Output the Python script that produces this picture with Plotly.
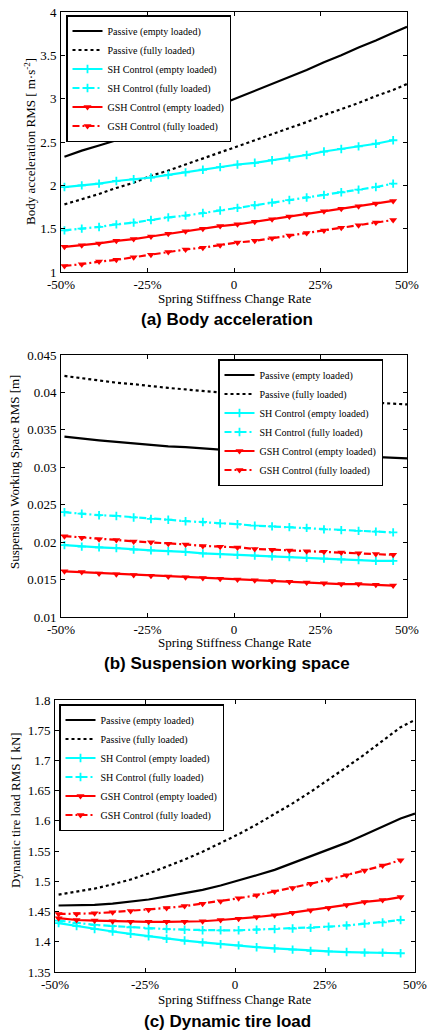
import plotly.graph_objects as go

# ---------------- data ----------------
x_ctrl = [-49, -44, -39, -34, -29, -24, -19, -14, -9, -4, 1, 6, 11, 16, 21, 26, 31, 36, 41, 46]
x_pass = [-49, -44, -39, -34, -29, -24, -19, -14, -9, -4, 1, 6, 11, 16, 21, 26, 31, 36, 41, 46, 50]

# (a) Body acceleration RMS
a_pass_empty = [2.33, 2.40, 2.46, 2.52, 2.58, 2.66, 2.72, 2.79, 2.86, 2.93, 3.01, 3.09, 3.17, 3.25, 3.33, 3.42, 3.50, 3.59, 3.67, 3.76, 3.83]
a_pass_full = [1.78, 1.84, 1.90, 1.97, 2.03, 2.11, 2.17, 2.24, 2.31, 2.38, 2.45, 2.52, 2.59, 2.66, 2.73, 2.81, 2.88, 2.95, 3.03, 3.10, 3.17]
a_sh_empty = [1.98, 2.00, 2.02, 2.05, 2.07, 2.09, 2.12, 2.15, 2.18, 2.21, 2.24, 2.26, 2.29, 2.32, 2.35, 2.39, 2.42, 2.45, 2.48, 2.52]
a_sh_full = [1.48, 1.50, 1.52, 1.55, 1.57, 1.60, 1.63, 1.65, 1.68, 1.71, 1.74, 1.77, 1.80, 1.83, 1.86, 1.89, 1.92, 1.95, 1.98, 2.02]
a_gsh_empty = [1.29, 1.31, 1.33, 1.36, 1.38, 1.41, 1.44, 1.47, 1.50, 1.53, 1.55, 1.58, 1.61, 1.64, 1.67, 1.70, 1.73, 1.76, 1.79, 1.82]
a_gsh_full = [1.07, 1.09, 1.12, 1.14, 1.17, 1.20, 1.23, 1.26, 1.28, 1.31, 1.34, 1.36, 1.39, 1.42, 1.45, 1.48, 1.51, 1.54, 1.57, 1.60]

# (b) Suspension working space RMS
b_pass_empty = [0.0341, 0.0338, 0.0336, 0.0334, 0.0332, 0.0330, 0.0328, 0.0327, 0.0325, 0.0324, 0.0322, 0.0321, 0.0320, 0.0319, 0.0318, 0.0317, 0.0316, 0.0315, 0.0314, 0.0313, 0.0312]
b_pass_full = [0.0422, 0.0419, 0.0416, 0.0413, 0.0411, 0.0408, 0.0406, 0.0404, 0.0402, 0.0400, 0.0398, 0.0396, 0.0394, 0.0393, 0.0391, 0.0390, 0.0389, 0.0387, 0.0386, 0.0385, 0.0384]
b_sh_empty = [0.0196, 0.0194, 0.0193, 0.0192, 0.0190, 0.0189, 0.0188, 0.0187, 0.0185, 0.0184, 0.0183, 0.0182, 0.0181, 0.0180, 0.0179, 0.0178, 0.0177, 0.0176, 0.0175, 0.0175]
b_sh_full = [0.0240, 0.0238, 0.0236, 0.0235, 0.0233, 0.0231, 0.0230, 0.0228, 0.0227, 0.0225, 0.0224, 0.0222, 0.0221, 0.0220, 0.0219, 0.0217, 0.0216, 0.0215, 0.0214, 0.0213]
b_gsh_empty = [0.0161, 0.0160, 0.0158, 0.0157, 0.0156, 0.0155, 0.0154, 0.0153, 0.0152, 0.0151, 0.0150, 0.0149, 0.0148, 0.0147, 0.0146, 0.0145, 0.0144, 0.0144, 0.0143, 0.0142]
b_gsh_full = [0.0208, 0.0206, 0.0204, 0.0203, 0.0201, 0.0200, 0.0198, 0.0197, 0.0195, 0.0194, 0.0193, 0.0191, 0.0190, 0.0189, 0.0188, 0.0187, 0.0186, 0.0185, 0.0184, 0.0183]

# (c) Dynamic tire load RMS
c_pass_empty = [1.460, 1.460, 1.461, 1.463, 1.466, 1.470, 1.475, 1.480, 1.486, 1.493, 1.501, 1.510, 1.519, 1.530, 1.541, 1.552, 1.564, 1.577, 1.591, 1.604, 1.612]
c_pass_full = [1.478, 1.483, 1.488, 1.495, 1.503, 1.513, 1.524, 1.536, 1.549, 1.563, 1.578, 1.594, 1.611, 1.629, 1.648, 1.668, 1.689, 1.710, 1.732, 1.755, 1.767]
c_sh_empty = [1.431, 1.426, 1.421, 1.417, 1.413, 1.409, 1.405, 1.402, 1.399, 1.396, 1.394, 1.391, 1.389, 1.387, 1.385, 1.384, 1.383, 1.382, 1.382, 1.381]
c_sh_full = [1.435, 1.431, 1.428, 1.426, 1.424, 1.422, 1.421, 1.420, 1.419, 1.419, 1.419, 1.420, 1.421, 1.422, 1.423, 1.425, 1.427, 1.430, 1.432, 1.436]
c_gsh_empty = [1.439, 1.436, 1.435, 1.434, 1.433, 1.433, 1.433, 1.433, 1.434, 1.436, 1.438, 1.441, 1.444, 1.448, 1.452, 1.456, 1.461, 1.466, 1.469, 1.474]
c_gsh_full = [1.446, 1.446, 1.447, 1.449, 1.451, 1.453, 1.456, 1.459, 1.463, 1.467, 1.472, 1.477, 1.483, 1.489, 1.496, 1.503, 1.510, 1.518, 1.526, 1.535]

names = ["Passive (empty loaded)", "Passive (fully loaded)", "SH Control (empty loaded)",
         "SH Control (fully loaded)", "GSH Control (empty loaded)", "GSH Control (fully loaded)"]

x_tickvals = [-50, -25, 0, 25, 50]
x_ticktext = ["-50%", "-25%", "0", "25%", "50%"]
a_ticks = [1, 1.5, 2, 2.5, 3, 3.5, 4]
a_ticktext = ["1", "1.5", "2", "2.5", "3", "3.5", "4"]
b_ticks = [0.01, 0.015, 0.02, 0.025, 0.03, 0.035, 0.04, 0.045]
b_ticktext = ["0.01", "0.015", "0.02", "0.025", "0.03", "0.035", "0.04", "0.045"]
c_ticks = [1.35, 1.4, 1.45, 1.5, 1.55, 1.6, 1.65, 1.7, 1.75, 1.8]
c_ticktext = ["1.35", "1.4", "1.45", "1.5", "1.55", "1.6", "1.65", "1.7", "1.75", "1.8"]

# ---------------- figure ----------------
W, H = 427, 1032
SERIF = "Liberation Serif, Times New Roman, serif"
SANS = "Liberation Sans, Arial, sans-serif"
DASHDOT = "7px,3px,2px,3px"

fig = go.Figure()

panels = [
    dict(ax="", leg="legend", ys=[a_pass_empty, a_pass_full, a_sh_empty, a_sh_full, a_gsh_empty, a_gsh_full]),
    dict(ax="2", leg="legend2", ys=[b_pass_empty, b_pass_full, b_sh_empty, b_sh_full, b_gsh_empty, b_gsh_full]),
    dict(ax="3", leg="legend3", ys=[c_pass_empty, c_pass_full, c_sh_empty, c_sh_full, c_gsh_empty, c_gsh_full]),
]

styles = [
    dict(color="black", dash="solid", marker=None),
    dict(color="black", dash="dot", marker=None),
    dict(color="#00FFFF", dash="solid", marker="cross-thin-open"),
    dict(color="#00FFFF", dash=DASHDOT, marker="cross-thin-open"),
    dict(color="#FF0000", dash="solid", marker="triangle-down"),
    dict(color="#FF0000", dash=DASHDOT, marker="triangle-down"),
]

for p in panels:
    for nm, st, yv in zip(names, styles, p["ys"]):
        xv = x_pass if st["marker"] is None else x_ctrl
        mode = "lines" if st["marker"] is None else "lines+markers"
        tr = go.Scatter(
            x=xv, y=yv, name=nm, mode=mode,
            line=dict(color=st["color"], width=2.2, dash=st["dash"]),
            xaxis="x" + p["ax"], yaxis="y" + p["ax"], legend=p["leg"],
        )
        if st["marker"] == "triangle-down":
            tr.marker = dict(symbol="triangle-down", size=7, color=st["color"])
        elif st["marker"] is not None:
            tr.marker = dict(symbol="cross-thin-open", size=6, color=st["color"],
                             line=dict(color=st["color"], width=1.8))
        fig.add_trace(tr)


def px_x(v):
    return v / W


def px_y(v):
    return 1 - v / H


axis_common = dict(showline=True, linecolor="black", linewidth=1, mirror="ticks",
                   ticks="inside", ticklen=4, tickcolor="black", showgrid=False,
                   zeroline=False, automargin=False, ticklabeloverflow="allow",
                   tickfont=dict(family=SERIF, size=13, color="black"))

boxes = {
    "": dict(l=61, r=407, t=12, b=272, yr=[1, 4], yt=a_ticks, ytt=a_ticktext),
    "2": dict(l=61, r=407, t=355, b=617, yr=[0.01, 0.045], yt=b_ticks, ytt=b_ticktext),
    "3": dict(l=55, r=415, t=700, b=972, yr=[1.35, 1.8], yt=c_ticks, ytt=c_ticktext),
}

layout = dict(width=W, height=H, margin=dict(l=0, r=0, t=0, b=0, autoexpand=False),
              paper_bgcolor="white", plot_bgcolor="white", showlegend=True)

for k, bx in boxes.items():
    layout["xaxis" + k] = dict(axis_common, domain=[px_x(bx["l"]), px_x(bx["r"])],
                               range=[-50, 50], tickvals=x_tickvals, ticktext=x_ticktext,
                               anchor="y" + k, ticklabelstandoff=0)
    layout["yaxis" + k] = dict(axis_common, domain=[px_y(bx["b"]), px_y(bx["t"])],
                               range=bx["yr"], tickvals=bx["yt"], ticktext=bx["ytt"],
                               anchor="x" + k, ticklabelstandoff=1)

leg_common = dict(bgcolor="white", bordercolor="black", borderwidth=1.5,
                  font=dict(family=SERIF, size=10, color="black"),
                  xanchor="left", yanchor="top", itemwidth=30, tracegroupgap=0)
layout["legend"] = dict(leg_common, x=px_x(66), y=px_y(15))
layout["legend2"] = dict(leg_common, x=px_x(218), y=px_y(359))
layout["legend3"] = dict(leg_common, x=px_x(59), y=px_y(704))

fig.update_layout(**layout)

# axis titles and captions
annots = [
    # x titles
    dict(x=px_x(234), y=px_y(298), text="Spring Stiffness Change Rate", size=13, fam=SERIF, ang=0),
    dict(x=px_x(234), y=px_y(642), text="Spring Stiffness Change Rate", size=13, fam=SERIF, ang=0),
    dict(x=px_x(235), y=px_y(999), text="Spring Stiffness Change Rate", size=13, fam=SERIF, ang=0),
    # captions
    dict(x=px_x(227), y=px_y(319), text="<b>(a) Body acceleration</b>", size=17, fam=SANS, ang=0),
    dict(x=px_x(227), y=px_y(663), text="<b>(b) Suspension working space</b>", size=17, fam=SANS, ang=0),
    dict(x=px_x(227), y=px_y(1021), text="<b>(c) Dynamic tire load</b>", size=17, fam=SANS, ang=0),
    # y titles
    dict(x=px_x(30), y=px_y(142), text="Body acceleration RMS [ m·s<sup>-2</sup>]", size=13, fam=SERIF, ang=-90),
    dict(x=px_x(15), y=px_y(472), text="Suspension Working Space RMS [m]", size=13, fam=SERIF, ang=-90),
    dict(x=px_x(15), y=px_y(810), text="Dynamic tire load RMS [ kN]", size=13, fam=SERIF, ang=-90),
]
for a in annots:
    fig.add_annotation(x=a["x"], y=a["y"], xref="paper", yref="paper", text=a["text"],
                       showarrow=False, textangle=a["ang"], xanchor="center", yanchor="middle",
                       font=dict(family=a["fam"], size=a["size"], color="black"))

fig.write_html("out.html", config={"displayModeBar": False},
               post_script="document.body.style.margin='0px';")
